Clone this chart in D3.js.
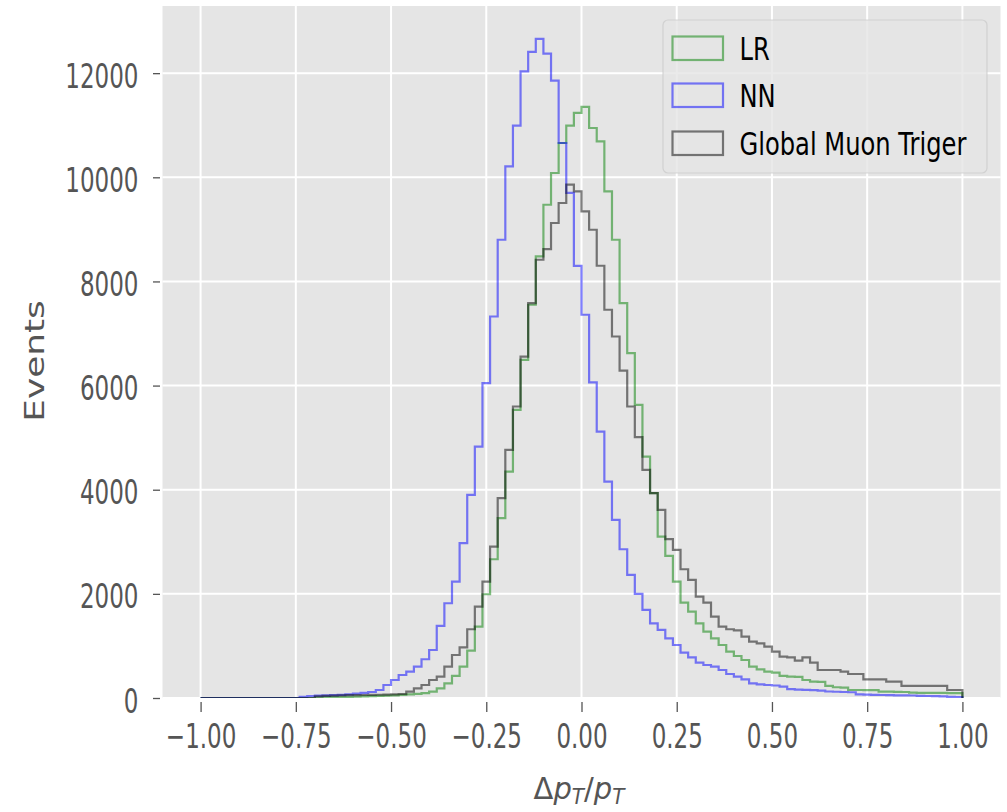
<!DOCTYPE html>
<html>
<head>
<meta charset="utf-8">
<script src="https://cdn.jsdelivr.net/npm/d3@7"></script>
<style>
  html, body { margin: 0; padding: 0; background: #ffffff; }
  svg { display: block; }
  text { font-family: "DejaVu Sans", sans-serif; }
</style>
</head>
<body>
<svg id="chart" width="1007" height="812"></svg>
<script>
// ---- data (100 bins from -1 to 1, width 0.02) ----
const binEdgesStart = -1;
const binWidth = 0.02;
const seriesNames = ["LR", "NN", "Global Muon Triger"];
const lrCounts = [
  0,0,0,0,0,0,0,0,0,0, 0,0,0,0,0,10,12,15,18,20,
  25,30,35,40,45,50,60,70,80,95, 121,186,282,423,601,909,1370,1993,2665,3453,
  4349,5534,6495,7552,8480,9473,10083,10659,10992,11236, 11351,10947,10690,9729,8801,7585,6624,5630,4637,3934,
  3100,2729,2235,1831,1658,1435,1274,1147,1018,890, 807,730,601,551,505,486,423,409,405,346,
  313,310,231,206,200,154,154,150,150,121, 121,118,115,102,100,100,98,98,95,95
];
const nnCounts = [
  0,0,0,0,0,0,0,0,0,0, 0,0,0,20,35,45,50,55,60,70,
  85,100,115,154,250,346,442,505,601,744, 922,1384,1820,2235,2973,3901,4829,6047,7327,8801,
  10210,10992,12035,12407,12657,12375,11856,10659,9700,8300, 7360,6060,5117,4157,3420,2857,2364,1998,1691,1435,
  1307,1147,1018,871,782,679,634,601,538,461, 409,359,282,260,250,240,217,170,160,155,
  150,140,125,120,115,110,70,65,60,58, 55,52,50,48,40,38,35,32,20,15
];
const gmtCounts = [
  0,0,0,0,0,0,0,0,0,0, 0,0,0,0,0,30,40,45,50,55,
  55,58,60,62,65,70,77,121,186,250, 346,409,601,826,974,1320,1754,2235,2907,3837,
  4765,5598,6558,7585,8417,8622,9122,9506,9858,9729, 9345,8993,8301,7456,6943,6289,5598,5010,4381,3934,
  3613,3050,2844,2473,2267,1947,1831,1562,1370,1320, 1300,1178,1082,1051,986,890,794,780,717,782,
  679,538,538,538,505,461,461,359,359,359, 313,313,231,231,231,231,231,231,154,154
];
const xTickValues = [-1.0, -0.75, -0.5, -0.25, 0.0, 0.25, 0.5, 0.75, 1.0];
const xTickLabels = ["\u22121.00", "\u22120.75", "\u22120.50", "\u22120.25", "0.00", "0.25", "0.50", "0.75", "1.00"];
const yTickValues = [0, 2000, 4000, 6000, 8000, 10000, 12000];
const yTickLabels = ["0", "2000", "4000", "6000", "8000", "10000", "12000"];
const yLabel = "Events";

// ---- layout ----
const plotLeft = 162.5, plotRight = 1000.5, plotTop = 6, plotBottom = 698;
const seriesColors = ["#008000", "#0000ff", "#000000"];
const seriesAlpha = 0.5;

const svg = d3.select("#chart");
const x = d3.scaleLinear().domain([-1.1, 1.1]).range([plotLeft, plotRight]);
const ymax = d3.max(nnCounts) * 1.05;
const y = d3.scaleLinear().domain([0, ymax]).range([plotBottom, plotTop]);

// clip
svg.append("defs").append("clipPath").attr("id", "plotclip")
  .append("rect").attr("x", plotLeft).attr("y", plotTop)
  .attr("width", plotRight - plotLeft).attr("height", plotBottom - plotTop);

// background
svg.append("rect").attr("x", plotLeft).attr("y", plotTop)
  .attr("width", plotRight - plotLeft).attr("height", plotBottom - plotTop)
  .attr("fill", "#e5e5e5");

// grid
const grid = svg.append("g");
grid.selectAll("line.gx").data(xTickValues).enter().append("line")
  .attr("x1", d => x(d)).attr("x2", d => x(d))
  .attr("y1", plotTop).attr("y2", plotBottom)
  .attr("stroke", "#ffffff").attr("stroke-width", 2);
grid.selectAll("line.gy").data(yTickValues).enter().append("line")
  .attr("y1", d => y(d)).attr("y2", d => y(d))
  .attr("x1", plotLeft).attr("x2", plotRight)
  .attr("stroke", "#ffffff").attr("stroke-width", 2);

// x axis
const xAxis = d3.axisBottom(x).tickValues(xTickValues).tickSize(0).tickFormat("");
const xg = svg.append("g").attr("transform", `translate(0,${plotBottom})`).call(xAxis);
xg.select(".domain").remove();
xg.selectAll(".tick").append("line").attr("y1", 4).attr("y2", 14)
  .attr("stroke", "#555555").attr("stroke-width", 1.3);
xg.selectAll(".tick").each(function(d, i) {
  d3.select(this).append("g").attr("transform", "translate(0,50) scale(1,1.48)")
    .append("text").attr("text-anchor", "middle").attr("fill", "#555555")
    .attr("font-size", 23).text(xTickLabels[i]);
});

// y axis
const yAxis = d3.axisLeft(y).tickValues(yTickValues).tickSize(0).tickFormat("");
const yg = svg.append("g").attr("transform", `translate(${plotLeft},0)`).call(yAxis);
yg.select(".domain").remove();
yg.selectAll(".tick").append("line").attr("x1", -2.5).attr("x2", -9.5)
  .attr("stroke", "#555555").attr("stroke-width", 1.3);
yg.selectAll(".tick").each(function(d, i) {
  d3.select(this).append("g").attr("transform", "translate(-24,14) scale(1,1.48)")
    .append("text").attr("text-anchor", "end").attr("fill", "#555555")
    .attr("font-size", 23).text(yTickLabels[i]);
});

// axis labels
svg.append("g").attr("transform", "translate(43.5,361) rotate(-90) scale(1.33,1)")
  .append("text").attr("text-anchor", "middle").attr("fill", "#555555")
  .attr("font-size", 27).text(yLabel);

const xl = svg.append("g").attr("transform", "translate(579,799) scale(1,1.05)")
  .append("text").attr("text-anchor", "middle").attr("fill", "#555555").attr("font-size", 29);
xl.append("tspan").text("\u0394");
xl.append("tspan").attr("font-style", "italic").text("p");
xl.append("tspan").attr("font-style", "italic").attr("font-size", 20).attr("dy", 5).text("T");
xl.append("tspan").attr("dy", -5).text("/");
xl.append("tspan").attr("font-style", "italic").text("p");
xl.append("tspan").attr("font-style", "italic").attr("font-size", 20).attr("dy", 5).text("T");

// histograms
function stepPoints(counts) {
  const pts = [[binEdgesStart, 0]];
  counts.forEach((c, i) => pts.push([binEdgesStart + i * binWidth, c]));
  pts.push([binEdgesStart + counts.length * binWidth, 0]);
  return pts;
}
const line = d3.line().x(d => x(d[0])).y(d => y(d[1])).curve(d3.curveStepAfter);
const allCounts = [lrCounts, nnCounts, gmtCounts];
const hg = svg.append("g").attr("clip-path", "url(#plotclip)");
allCounts.forEach((counts, k) => {
  hg.append("path").attr("d", line(stepPoints(counts)))
    .attr("fill", "none").attr("stroke", seriesColors[k])
    .attr("stroke-opacity", seriesAlpha).attr("stroke-width", 2.2)
    .attr("stroke-linejoin", "miter");
});

// legend
const lg = svg.append("g");
lg.append("rect").attr("x", 663).attr("y", 20).attr("width", 324).attr("height", 153)
  .attr("rx", 5).attr("fill", "#e5e5e5").attr("fill-opacity", 0.8)
  .attr("stroke", "#cccccc").attr("stroke-opacity", 0.8).attr("stroke-width", 1.2);
const legendY = [48, 95, 143];
seriesNames.forEach((name, k) => {
  lg.append("rect").attr("x", 672.5).attr("y", legendY[k] - 11.5).attr("width", 50.5).attr("height", 23.5)
    .attr("fill", "none").attr("stroke", seriesColors[k]).attr("stroke-opacity", seriesAlpha)
    .attr("stroke-width", 2.2);
  lg.append("g").attr("transform", `translate(739.5,${legendY[k] + 12}) scale(1,1.3)`)
    .append("text").attr("fill", "#000000").attr("font-size", 24.2).text(name);
});
</script>
</body>
</html>
